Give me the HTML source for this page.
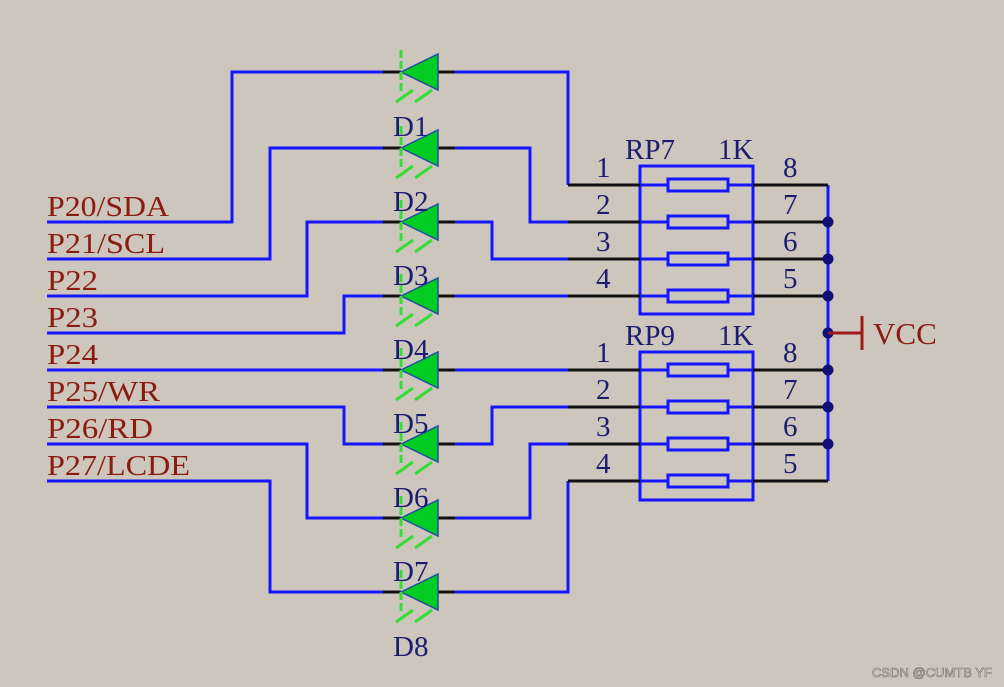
<!DOCTYPE html>
<html><head><meta charset="utf-8"><style>
html,body{margin:0;padding:0;background:#cdc6bc;}
svg{display:block}
text{font-family:"Liberation Serif",serif;font-size:29px;}
.n{fill:#1c1c70}
.r{fill:#8b1a10;font-size:31px}
</style></head><body>
<svg width="1004" height="687" viewBox="0 0 1004 687" xmlns="http://www.w3.org/2000/svg">
<defs>
<g id="d">
<path d="M383 0H401M438 0H455" stroke="#111" stroke-width="3"/>
<polygon points="401,0 438,-18 438,18" fill="#00cc22" stroke="#2050a0" stroke-width="1.5"/>
<line x1="401" y1="-22" x2="401" y2="20" stroke="#33dd33" stroke-width="3" stroke-dasharray="8,3"/>
<path d="M396 30L413 18M415 30L432 18" stroke="#33dd33" stroke-width="3"/>
</g>
</defs>
<g fill="none" stroke="#1515ff" stroke-width="3">
<path d="M47 222H232V72H383M455 72H568V185"/>
<path d="M47 259H270V148H383M455 148H530V222H568"/>
<path d="M47 296H307V222H383M455 222H492V259H568"/>
<path d="M47 333H344V296H383M455 296H568"/>
<path d="M47 370H383M455 370H568"/>
<path d="M47 407H344V444H383M455 444H492V407H568"/>
<path d="M47 444H307V518H383M455 518H530V444H568"/>
<path d="M47 481H270V592H383M455 592H568V481"/>
<path d="M828 185V481"/>
<rect x="640" y="166" width="113" height="148"/>
<rect x="640" y="352" width="113" height="148"/>
<g>
<rect x="668" y="179" width="60" height="12"/><rect x="668" y="216" width="60" height="12"/>
<rect x="668" y="253" width="60" height="12"/><rect x="668" y="290" width="60" height="12"/>
<rect x="668" y="364" width="60" height="12"/><rect x="668" y="401" width="60" height="12"/>
<rect x="668" y="438" width="60" height="12"/><rect x="668" y="475" width="60" height="12"/>
</g>
<path d="M640 185H668M728 185H753M640 222H668M728 222H753M640 259H668M728 259H753M640 296H668M728 296H753M640 370H668M728 370H753M640 407H668M728 407H753M640 444H668M728 444H753M640 481H668M728 481H753"/>
</g>
<path d="M568 185H640M568 222H640M568 259H640M568 296H640M568 370H640M568 407H640M568 444H640M568 481H640M753 185H828M753 222H828M753 259H828M753 296H828M753 370H828M753 407H828M753 444H828M753 481H828" stroke="#111" stroke-width="3"/>
<g fill="#10107a">
<circle cx="828" cy="222" r="5.5"/><circle cx="828" cy="259" r="5.5"/><circle cx="828" cy="296" r="5.5"/>
<circle cx="828" cy="333" r="5.5"/><circle cx="828" cy="370" r="5.5"/><circle cx="828" cy="407" r="5.5"/>
<circle cx="828" cy="444" r="5.5"/>
</g>
<path d="M828 333H862M862 316V350" stroke="#a01818" stroke-width="3" fill="none"/>
<text x="873" y="344" class="r" style="font-size:31px">VCC</text>
<use href="#d" y="72"/><use href="#d" y="148"/><use href="#d" y="222"/><use href="#d" y="296"/>
<use href="#d" y="370"/><use href="#d" y="444"/><use href="#d" y="518"/><use href="#d" y="592"/>
<g class="n">
<text x="393" y="136">D1</text><text x="393" y="211">D2</text><text x="393" y="285">D3</text>
<text x="393" y="359">D4</text><text x="393" y="433">D5</text><text x="393" y="507">D6</text>
<text x="393" y="581">D7</text><text x="393" y="656">D8</text>
<text x="625" y="159">RP7</text><text x="718" y="159">1K</text>
<text x="625" y="345">RP9</text><text x="718" y="345">1K</text>
<text x="596" y="177">1</text><text x="596" y="214">2</text><text x="596" y="251">3</text><text x="596" y="288">4</text>
<text x="783" y="177">8</text><text x="783" y="214">7</text><text x="783" y="251">6</text><text x="783" y="288">5</text>
<text x="596" y="362">1</text><text x="596" y="399">2</text><text x="596" y="436">3</text><text x="596" y="473">4</text>
<text x="783" y="362">8</text><text x="783" y="399">7</text><text x="783" y="436">6</text><text x="783" y="473">5</text>
</g>
<g class="r">
<text x="47" y="216" textLength="122" lengthAdjust="spacingAndGlyphs">P20/SDA</text><text x="47" y="253" textLength="118" lengthAdjust="spacingAndGlyphs">P21/SCL</text><text x="47" y="290" textLength="51" lengthAdjust="spacingAndGlyphs">P22</text>
<text x="47" y="327" textLength="51" lengthAdjust="spacingAndGlyphs">P23</text><text x="47" y="364" textLength="51" lengthAdjust="spacingAndGlyphs">P24</text><text x="47" y="401" textLength="113" lengthAdjust="spacingAndGlyphs">P25/WR</text>
<text x="47" y="438" textLength="106" lengthAdjust="spacingAndGlyphs">P26/RD</text><text x="47" y="475" textLength="143" lengthAdjust="spacingAndGlyphs">P27/LCDE</text>
</g>
<text x="872" y="677" style="font-family:'Liberation Sans',sans-serif;font-size:13px;fill:#eeeae4;stroke:#6e6a62;stroke-width:0.6">CSDN @CUMTB YF</text>
</svg>
</body></html>
